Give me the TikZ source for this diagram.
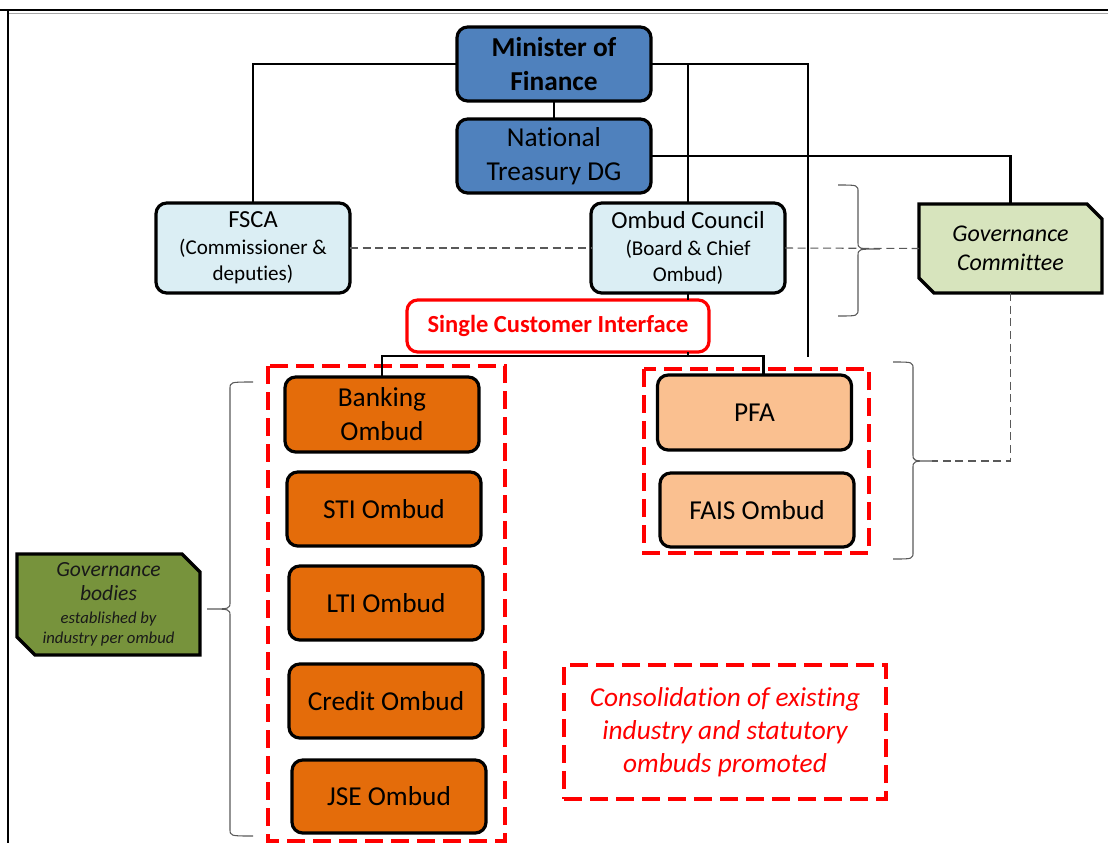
\documentclass[tikz,border=0pt]{standalone}
\usepackage{fontspec}
\setmainfont{Carlito}[Ligatures=NoCommon]
\usetikzlibrary{calc,backgrounds}
\definecolor{boxblue}{HTML}{4F81BD}
\definecolor{boxlight}{HTML}{DBEEF4}
\definecolor{boxorange}{HTML}{E46C0A}
\definecolor{boxpeach}{HTML}{FAC090}
\definecolor{gcgreen}{HTML}{D7E4BD}
\definecolor{gbgreen}{HTML}{77933C}
\definecolor{dashgray}{HTML}{595959}
\definecolor{redc}{HTML}{FF0000}
\tikzset{
  every node/.style={outer sep=0pt},
  obox/.style={draw=black, line width=2.4pt, rounded corners=8pt, align=center, inner sep=1pt,
    text=black, minimum width=145.5pt, minimum height=55.5pt, font=\fontsize{20.5}{25.5}\selectfont},
  bluebox/.style={obox, fill=boxblue},
  lightbox/.style={obox, fill=boxlight, minimum height=67.5pt, font=\fontsize{15.8}{19.5}\selectfont},
  orangebox/.style={obox, fill=boxorange},
  peachbox/.style={obox, fill=boxpeach},
  conn/.style={draw=black, line width=2.1pt},
  gdash/.style={draw=dashgray, line width=0.8pt, dash pattern=on 6pt off 3.5pt},
  rdash/.style={draw=redc, line width=2.6pt, dash pattern=on 13.5pt off 6pt},
  bracestyle/.style={draw=dashgray, line width=0.8pt},
  snip/.style={draw=black, line width=2.4pt, line join=miter},
}
\begin{document}
\begin{tikzpicture}[x=0.75pt,y=-0.75pt]
\useasboundingbox (0,0) rectangle (1108,843);
% frame
\draw[line width=2.2pt] (0,10) -- (1108,10);
\draw[black!35, line width=0.6pt] (8,13.5) -- (1108,13.5);
\draw[line width=1.5pt] (8,10) -- (8,843);

% nodes
\node[bluebox] (mof) at (554,64) {\textbf{Minister of}\\\textbf{Finance}};
\node[bluebox] (ntdg) at (554,156) {National\\Treasury DG};
\node[lightbox] (fsca) at (253,248) {{\fontsize{18.4}{20}\selectfont FSCA}\\[1pt](Commissioner \&\\deputies)};
\node[lightbox] (oc) at (688,248) {{\fontsize{18.4}{20}\selectfont Ombud Council}\\[1pt](Board \& Chief\\Ombud)};
\node[align=center, inner sep=0pt, minimum width=137.25pt, minimum height=66.75pt,
  font=\fontsize{18}{22}\selectfont\itshape] (gc) at (1010.5,248.5) {Governance\\Committee};
\node[draw=redc, line width=2.4pt, rounded corners=8pt, fill=white, text=redc,
  minimum width=226.5pt, minimum height=39pt, font=\fontsize{18.4}{22}\selectfont\bfseries] (sci) at (558,326) {Single Customer Interface};
\node[orangebox, minimum height=56.25pt] (bank) at (382,414.5) {Banking\\Ombud};
\node[orangebox] (sti) at (384,509) {STI Ombud};
\node[orangebox] (lti) at (386,603) {LTI Ombud};
\node[orangebox] (credit) at (386,701) {Credit Ombud};
\node[orangebox, minimum height=54.75pt] (jse) at (389,796.5) {JSE Ombud};
\node[peachbox, minimum height=56.25pt] (pfa) at (754.5,412.5) {PFA};
\node[peachbox] (fais) at (757,510) {FAIS Ombud};
\node[align=center, inner sep=0pt, minimum width=137.25pt, minimum height=75.75pt, text=black!90,
  font=\fontsize{12.5}{15}\selectfont\itshape] (gb) at (108.5,604.5)
  {{\fontsize{16.2}{19}\selectfont Governance}\\[3pt]{\fontsize{16.2}{19}\selectfont bodies}\\[2pt]established by\\industry per ombud};
\node[draw=redc, line width=2.6pt, dash pattern=on 13.5pt off 6pt, text=redc, align=center,
  minimum width=241.5pt, minimum height=100.5pt, font=\fontsize{20.5}{24.75}\selectfont\itshape] (cons) at (725,732)
  {Consolidation of existing\\industry and statutory\\ombuds promoted};

% snipped outlines
\begin{scope}[on background layer]
\draw[snip, fill=gcgreen] (gc.north west) -- ($(gc.north east)+(-15,0)$) -- ($(gc.north east)+(0,15)$)
  -- (gc.south east) -- ($(gc.south west)+(15,0)$) -- ($(gc.south west)+(0,-15)$) -- cycle;
\draw[snip, fill=gbgreen] (gb.north west) -- ($(gb.north east)+(-18,0)$) -- ($(gb.north east)+(0,18)$)
  -- (gb.south east) -- ($(gb.south west)+(18,0)$) -- ($(gb.south west)+(0,-18)$) -- cycle;
\end{scope}

% red dashed groups
\draw[rdash] (268,366) rectangle (505,841);
\draw[rdash] (644,369) rectangle (869,553);

% helper coordinates
\coordinate (pfaend) at (808,357);
\coordinate (bus) at (0,356);
\coordinate (tbtip) at (880,249);
\coordinate (rbtip) at (932,461);

% connectors
\draw[conn] (mof.west) -| (fsca.north);
\draw[conn] (mof.south) -- (ntdg.north);
\draw[conn] (mof.east) -| (pfaend);
\draw[conn] (mof.east) -| (oc.north);
\draw[conn] (ntdg.east) -| (gc.north);
\draw[conn] (oc.south) -- (oc.south |- sci.north);
\draw[conn] (oc.south |- sci.south) -- (oc.south |- bus);
\draw[conn] (bank.north) -- (bank.north |- bus) -- ($(pfa.north |- bus)+(9,0)$) -- ($(pfa.north)+(9,0)$);
\draw[conn] ($(pfa.south)+(9,0)$) -- ($(pfa.south)+(9,0)$ |- fais.north);

% dashed relations
\draw[gdash] (fsca.east) -- (oc.west);
\draw[gdash] (oc.east) -- (gc.west);
\draw[gdash] (gc.south) |- (rbtip);

% braces
\draw[bracestyle] (838,185) .. controls (858,185) .. (858,192) -- (858,242)
  .. controls (858,249) .. (tbtip) .. controls (858,249) .. (858,256) -- (858,309) .. controls (858,316) .. (838,316);
\draw[bracestyle] (893,362) .. controls (913,362) .. (913,369) -- (913,454)
  .. controls (913,461) .. (rbtip) .. controls (913,461) .. (913,468) -- (913,552) .. controls (913,559) .. (893,559);
\draw[bracestyle] (253,382) .. controls (230,382) .. (230,389) -- (230,602)
  .. controls (230,609) .. (207,609) .. controls (230,609) .. (230,616) -- (230,829) .. controls (230,836) .. (253,836);
\end{tikzpicture}
\end{document}
